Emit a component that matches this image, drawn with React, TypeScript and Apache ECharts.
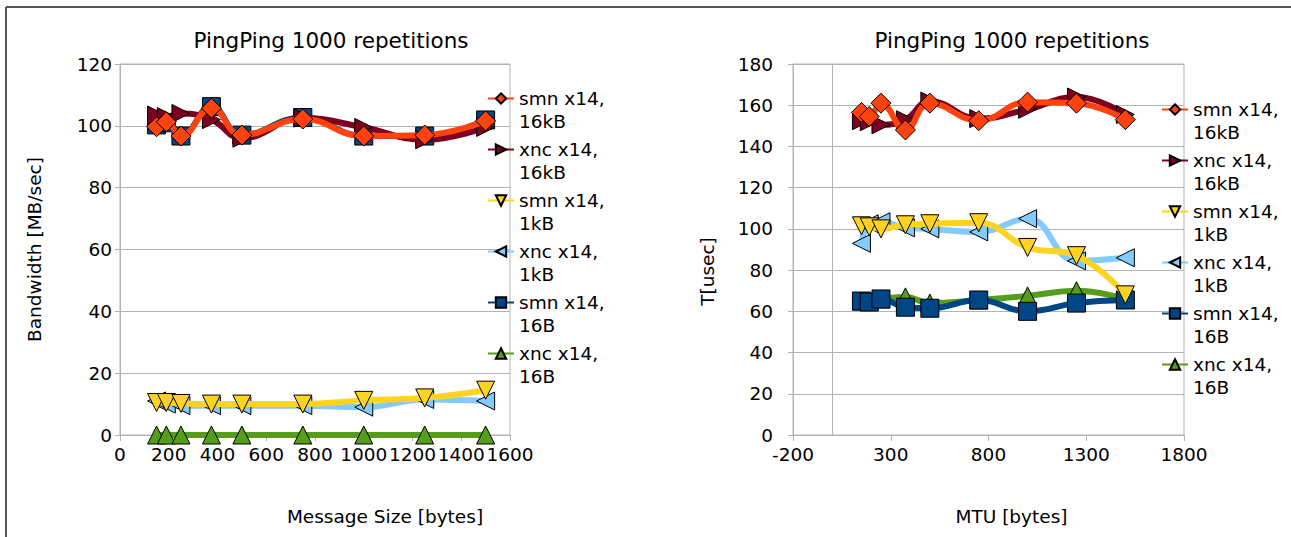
import React, { useEffect, useRef } from "react";
import * as echarts from "echarts";

const sizes = [150, 190, 250, 375, 500, 750, 1000, 1250, 1500];
const seriesNames = ["smn x14,\n16kB", "xnc x14,\n16kB", "smn x14,\n1kB", "xnc x14,\n1kB", "smn x14,\n16B", "xnc x14,\n16B"];

// Left chart: Bandwidth [MB/sec] vs message size
const leftSmn16kB = [99.7, 101.3, 96.7, 105.7, 97, 102.2, 96.7, 97, 101.6];
const leftXnc16kB = [103.5, 103, 104, 102, 96, 102.5, 99.5, 95.5, 99.5];
const leftSmn1kB = [10.5, 10.5, 10.2, 10, 10, 10, 11.2, 12, 14.5];
const leftXnc1kB = [11, 10, 9.5, 9.5, 9.5, 9.5, 9, 11.5, 11];
const leftSmn16B = [100.3, 101, 96.7, 106.2, 97, 102.7, 96.7, 96.7, 101.9];
const leftXnc16B = [0, 0, 0, 0, 0, 0, 0, 0, 0];

// Right chart: T[usec] vs MTU
const rightSmn16kB = [156.5, 154.5, 161, 148, 161, 152.5, 161.5, 161, 153];
const rightXnc16kB = [152.5, 152, 150.5, 153, 162, 153.5, 158, 164, 155.5];
const rightSmn1kB = [101.5, 101, 100, 102, 102.5, 103, 91, 87, 68];
const rightXnc1kB = [93, 102.5, 103.5, 100.5, 100, 98.5, 105, 84.5, 86];
const rightSmn16B = [65, 64.5, 66, 62, 61.5, 65.5, 60, 64, 65.5];
const rightXnc16B = [65, 65, 66, 67, 64, 65.5, 67.5, 70, 66];

const FONT = "DejaVu Sans";

const styles: Record<string, { color: string; symbol: string; size: number; rotate: number; z: number }> = {
  "smn x14,\n16kB": { color: "#ff420e", symbol: "diamond", size: 20, rotate: 0, z: 8 },
  "xnc x14,\n16kB": { color: "#7e0021", symbol: "triangle", size: 18, rotate: -90, z: 7 },
  "smn x14,\n1kB": { color: "#ffd320", symbol: "triangle", size: 18, rotate: 180, z: 6 },
  "xnc x14,\n1kB": { color: "#83caff", symbol: "triangle", size: 18, rotate: 90, z: 5 },
  "smn x14,\n16B": { color: "#004586", symbol: "rect", size: 18, rotate: 0, z: 4 },
  "xnc x14,\n16B": { color: "#579d1c", symbol: "triangle", size: 18, rotate: 0, z: 3 },
};

function mk(name: string, values: number[], idx: number, extra: any = {}) {
  const s = styles[name];
  return {
    type: "line",
    name,
    xAxisIndex: idx,
    yAxisIndex: idx,
    data: sizes.map((x, i) => [x, values[i]]),
    smooth: 0.45,
    symbol: s.symbol,
    symbolSize: s.size,
    symbolRotate: s.rotate,
    z: s.z,
    lineStyle: { width: 6, color: s.color },
    itemStyle: { color: s.color, borderColor: "#000", borderWidth: 1 },
    emphasis: { disabled: true },
    ...extra,
  };
}

const axisLabel = {
  fontFamily: FONT, fontSize: 18.5, color: "#000",
  showMinLabel: true, showMaxLabel: true, hideOverlap: false,
  formatter: (v: number) => String(v),
};
const nameStyle = { fontFamily: FONT, fontSize: 18.5, color: "#000" };
const gray = "#b3b3b3";

function legend(left: number, top: number) {
  return {
    orient: "vertical",
    left,
    top,
    data: seriesNames,
    itemWidth: 26,
    itemHeight: 13,
    itemGap: -18,
    selectedMode: false,
    formatter: (name: string) => "\n" + name,
    textStyle: { fontFamily: FONT, fontSize: 18.5, lineHeight: 23, color: "#000" },
  };
}

export default function App() {
  const ref = useRef<HTMLDivElement>(null);
  useEffect(() => {
    if (!ref.current) return;
    const chart = echarts.init(ref.current, undefined, { renderer: "svg" });
    const option: any = {
      animation: false,
      backgroundColor: "#fff",
      title: [
        { text: "PingPing 1000 repetitions", left: 326, top: 24, textAlign: "center", textStyle: { fontFamily: FONT, fontSize: 21.5, fontWeight: "normal", color: "#000" } },
        { text: "PingPing 1000 repetitions", left: 1007, top: 24, textAlign: "center", textStyle: { fontFamily: FONT, fontSize: 21.5, fontWeight: "normal", color: "#000" } },
      ],
      legend: [legend(482, 59), legend(1156, 70)],
      grid: [
        { left: 120, top: 64, width: 390, height: 371, show: true, borderColor: gray, borderWidth: 1, backgroundColor: "transparent" },
        { left: 793, top: 64, width: 391, height: 371, show: true, borderColor: gray, borderWidth: 1, backgroundColor: "transparent" },
      ],
      xAxis: [
        {
          type: "value", gridIndex: 0, min: 0, max: 1600, interval: 200,
          name: "Message Size [bytes]", nameLocation: "middle", nameGap: 72,
          nameTextStyle: { ...nameStyle, padding: [0, 0, 0, 140] },
          axisLine: { show: true, lineStyle: { color: gray } },
          axisTick: { show: true, length: 6, lineStyle: { color: gray } },
          axisLabel: { ...axisLabel, margin: 10 },
          splitLine: { show: false },
        },
        {
          type: "value", gridIndex: 1, min: -200, max: 1800, interval: 500,
          name: "MTU [bytes]", nameLocation: "middle", nameGap: 72,
          nameTextStyle: { ...nameStyle, padding: [0, 0, 0, 46] },
          axisLine: { show: true, onZero: false, lineStyle: { color: gray } },
          axisTick: { show: true, length: 6, lineStyle: { color: gray } },
          axisLabel: { ...axisLabel, margin: 10 },
          splitLine: { show: false },
        },
      ],
      yAxis: [
        {
          type: "value", gridIndex: 0, min: 0, max: 120, interval: 20,
          name: "Bandwidth [MB/sec]", nameLocation: "middle", nameGap: 76, nameTextStyle: nameStyle,
          axisLine: { show: true, lineStyle: { color: gray } },
          axisTick: { show: true, length: 5, lineStyle: { color: gray } },
          axisLabel: { ...axisLabel, margin: 8 },
          splitLine: { show: true, lineStyle: { color: gray } },
        },
        {
          type: "value", gridIndex: 1, min: 0, max: 180, interval: 20,
          name: "T[usec]", nameLocation: "middle", nameGap: 76,
          nameTextStyle: { ...nameStyle, padding: [0, 44, 0, 0] },
          axisLine: { show: true, onZero: false, lineStyle: { color: gray } },
          axisTick: { show: true, length: 5, lineStyle: { color: gray } },
          axisLabel: { ...axisLabel, margin: 20 },
          splitLine: { show: true, lineStyle: { color: gray } },
        },
      ],
      graphic: [
        { type: "line", shape: { x1: 6, y1: 7, x2: 1291, y2: 7 }, style: { stroke: "#555", lineWidth: 2 }, silent: true },
        { type: "line", shape: { x1: 6, y1: 7, x2: 6, y2: 537 }, style: { stroke: "#555", lineWidth: 2 }, silent: true },
      ],
      series: [
        mk("xnc x14,\n16B", leftXnc16B, 0),
        mk("smn x14,\n16B", leftSmn16B, 0),
        mk("xnc x14,\n1kB", leftXnc1kB, 0),
        mk("smn x14,\n1kB", leftSmn1kB, 0),
        mk("xnc x14,\n16kB", leftXnc16kB, 0),
        mk("smn x14,\n16kB", leftSmn16kB, 0),
        mk("xnc x14,\n16B", rightXnc16B, 1, {
          markLine: { silent: true, symbol: "none", label: { show: false }, lineStyle: { color: gray, width: 1, type: "solid" }, data: [{ xAxis: 0 }], z: 1 },
        }),
        mk("smn x14,\n16B", rightSmn16B, 1),
        mk("xnc x14,\n1kB", rightXnc1kB, 1),
        mk("smn x14,\n1kB", rightSmn1kB, 1),
        mk("xnc x14,\n16kB", rightXnc16kB, 1),
        mk("smn x14,\n16kB", rightSmn16kB, 1),
      ],
    };
    chart.setOption(option);
    return () => chart.dispose();
  }, []);
  return <div ref={ref} style={{ position: "fixed", left: 0, top: 0, width: 1291, height: 537 }} />;
}
